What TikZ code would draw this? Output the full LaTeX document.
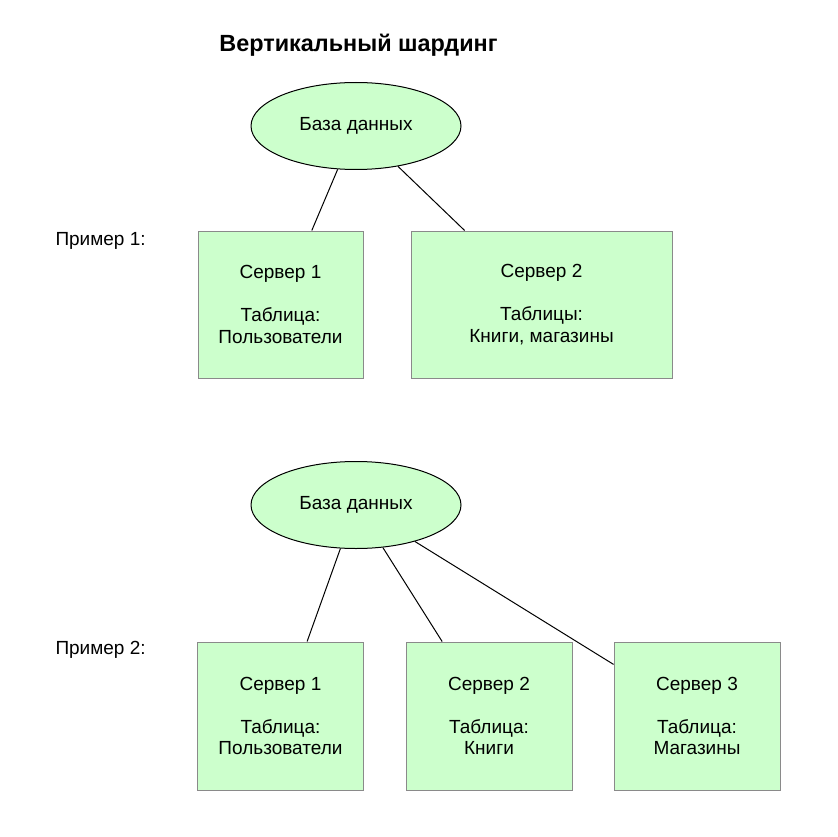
\documentclass[tikz,border=0pt]{standalone}
\usepackage{fontspec}
\setmainfont{Liberation Sans}
\usetikzlibrary{shapes.geometric}
\definecolor{shardgreen}{HTML}{CCFFCC}
\definecolor{servergray}{HTML}{8A8A8A}
\begin{document}
\begin{tikzpicture}[x=1pt, y=-1pt,
	font=\fontsize{19}{21.5}\selectfont,
	line width=1pt,
	database/.style={draw, ellipse, fill=shardgreen, minimum width=210pt, minimum height=87pt, inner sep=0pt},
	server/.style={draw=servergray, fill=shardgreen, align=center, minimum height=147pt, inner sep=0pt},
	example label/.style={anchor=west, inner sep=0pt}]

	\useasboundingbox (0,0) rectangle (837,837);

	% title
	\node[font=\fontsize{23.4}{28}\selectfont\bfseries] (title) at (358.5,45) {Вертикальный шардинг};

	% example 1
	\node[database] (db1) at (356,126) {База данных};
	\node[example label] (ex1) at (55,241) {Пример 1:};
	\node[server, minimum width=165pt] (s11) at (280.5,304.5) {Сервер 1\\ \\Таблица:\\Пользователи};
	\node[server, minimum width=261pt] (s12) at (541.5,304.5) {Сервер 2\\ \\Таблицы:\\Книги, магазины};
	\foreach \server in {s11, s12}
		\draw (db1) -- (\server);

	% example 2
	\node[database] (db2) at (356,505) {База данных};
	\node[example label] (ex2) at (55,650) {Пример 2:};
	\foreach \x/\n/\tab in {280.5/1/Пользователи, 489/2/Книги, 697/3/Магазины}
		\node[server, minimum width=166pt, minimum height=148pt] (s2\n) at (\x,716) {Сервер \n\\ \\Таблица:\\\tab};
	\foreach \server in {s21, s22, s23}
		\draw (db2) -- (\server);
\end{tikzpicture}
\end{document}
